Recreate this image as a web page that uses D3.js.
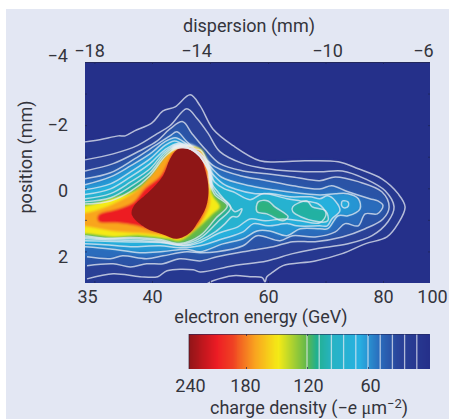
<!DOCTYPE html>
<html>
<head>
<meta charset="utf-8">
<script src="https://cdn.jsdelivr.net/npm/d3@7"></script>
<style>
  html, body { margin: 0; padding: 0; background: #fff; }
  svg { display: block; }
  text { font-family: "Roboto", sans-serif; fill: #33343c; font-size: 18px; }
</style>
</head>
<body>
<script>
// tick labels
const energyTicks = [35, 40, 60, 80, 100];
const energyMarks = [35.7, 40, 50, 60, 70, 80];
const dispersionTicks = [-18, -14, -10, -6];
const positionTicks = [-4, -2, 0, 2];
const positionMarks = [-3, -2, -1, 0, 1, 2];
const densityTicks = [240, 180, 120, 60];

// colour bar, density -> colour
const densityStops = [0, 28, 48, 68, 94, 110, 120, 148, 170, 194, 210, 222, 240];
const densityColours = ["#25308a", "#2a4298", "#2a6cbc", "#27b0e2", "#27b3c4", "#22b08e", "#62b84a",
  "#f4ea16", "#f9a51f", "#ef4023", "#ed1c24", "#c8171e", "#8f1518"];

// contour levels and [energy GeV, position mm] outlines
const contourLevels = [12, 24, 36, 48, 60, 72, 84, 96, 108, 120];
const level12 = [[35,-1.47],[36.1,-1.54],[37.5,-1.66],[38,-1.66],[38.7,-1.82],[40,-2.07],[41.9,-2.45],[44,-2.58],[46.6,-2.96],[48.3,-2.61],[50.5,-1.88],[54,-1.35],[58.6,-.87],[62.1,-.84],[66.4,-.87],[72.2,-.84],[75.7,-.62],[79.8,-.3],[86.4,.17],[89.4,.59],[86.4,1.12],[81.7,1.54],[76.9,1.76],[72.9,2.07],[68.2,2.3],[62.6,2.45],[60.9,2.65],[59.8,2.8],[59.5,2.96],[59,2.83],[56.9,2.8],[54,2.77],[50.5,2.93],[49.1,3.05],[35,3.2]];
const level24 = [[35,-.9],[37.1,-1.09],[38.9,-1.35],[40.9,-1.73],[43.1,-1.98],[46,-2.52],[47.8,-2.2],[49.7,-1.73],[51.7,-1.16],[55.7,-.78],[59.8,-.62],[63.8,-.55],[69,-.52],[72.9,-.55],[76.9,-.3],[80.9,.08],[84.7,.59],[82.1,1.06],[78.1,1.5],[73.9,1.76],[68.2,1.92],[64.3,2.07],[59.8,2.3],[54,2.45],[48.3,2.65],[47.1,2.58],[42.6,2.61],[41,2.8],[39.1,2.8],[37.1,2.71],[35.15,2.87]];
const level36 = [[35,-.55],[37.1,-.78],[39.1,-1.19],[40.9,-1.5],[43.1,-1.88],[45.3,-2.11],[46.9,-1.73],[49.1,-1.25],[51.7,-.78],[55.7,-.55],[59.8,-.46],[64.3,-.36],[69,-.24],[71.7,-.36],[75.7,-.21],[79.8,.11],[82.6,.59],[80,.97],[76.9,1.28],[72.9,1.54],[68.2,1.69],[64.3,1.69],[60.9,1.85],[55.7,2.01],[51.2,2.17],[48.3,2.3],[44.8,2.23],[41.9,2.39],[39.6,2.39],[38.4,2.49],[37.1,2.39],[35.15,2.45]];
const level48 = [[35,-.3],[36.9,-.49],[38.7,-.93],[40.5,-1.35],[43.1,-1.66],[44.3,-1.79],[45.9,-1.5],[48.3,-1.09],[50.9,-.68],[55.2,-.4],[59.8,-.24],[64.3,-.08],[69,.02],[71.1,-.08],[73.9,.11],[77.7,.33],[79.1,.4],[80,.55],[79,.81],[76.9,.81],[75.7,1.19],[73.4,1.12],[71.7,1.38],[68.2,1.54],[64.3,1.5],[62.1,1.66],[58.1,1.5],[55.7,1.82],[51.2,2.01],[48.3,2.04],[46,2.01],[41.9,2.14],[39.6,2.23],[37.8,2.14],[36.9,2.23],[35.15,2.17]];
const level60 = [[35,-.11],[36.9,-.36],[38.4,-.71],[39.85,-1.09],[42.2,-1.47],[44,-1.6],[45.7,-1.44],[48,-1.1],[49.9,-.72],[52,-.35],[56.9,-.08],[62.1,.08],[69,.21],[71.7,.17],[73.9,.17],[75.7,.33],[76,.65],[73.9,.87],[72.2,.87],[70.4,1.28],[69,1.28],[65.6,1.28],[63.3,1.5],[60.3,1.35],[58.1,1.35],[55.7,1.6],[52.2,1.76],[48.3,2.01],[46,1.93],[41.9,2],[39.1,2.04],[36.9,1.92],[35,1.85]];
const level72 = [[35,.05],[36.9,-.14],[38.4,-.52],[39.85,-.93],[42.2,-1.35],[43.9,-1.5],[46.2,-1.3],[48.1,-1.05],[50,-.55],[52.2,-.15],[54.3,.02],[57.8,.17],[60.7,.17],[63.8,.27],[67.3,.27],[69,.33],[70.4,.24],[71.7,.4],[72.5,.71],[71.1,.97],[70.3,1.19],[69,1.19],[65,1.19],[63.5,1.12],[60,1.19],[57.5,1.12],[55.7,1.38],[52.2,1.6],[48.3,1.82],[44.8,1.88],[41.4,1.82],[38.4,1.85],[36.5,1.79],[35,1.76]];
const level84 = [[35,.2],[36.9,.02],[38.4,-.36],[39.85,-.78],[42.2,-1.22],[44.5,-1.42],[46.5,-1.25],[48.2,-1.02],[49.9,-.5],[50.8,-.2],[52.5,.02],[54,.11],[56.9,.36],[59.1,.17],[63.3,.33],[65.6,.4],[68.7,.49],[70.1,.81],[69,1.09],[65.6,1.03],[62.6,.97],[59.5,1.03],[56.9,.97],[54.8,1.22],[51.7,1.41],[48.3,1.72],[45.7,1.82],[41.4,1.72],[38.4,1.7],[36.5,1.68],[35,1.66]];
const level96 = [[35,.33],[36.9,.17],[38.4,-.2],[39.85,-.62],[42.2,-1.15],[44.3,-1.37],[46.9,-1.22],[48.3,-1],[49.85,-.55],[50.3,-.15],[51.3,.1],[53.1,.49],[54.3,.74],[55.5,.65],[54.8,.9],[53.8,.9],[52.6,1.12],[50.9,1.38],[48.3,1.65],[45.7,1.8],[41.4,1.7],[38.4,1.65],[36.5,1.63],[35,1.6]];
const level108 = [[35,.43],[36.9,.3],[38.4,-.05],[39.85,-.5],[42.2,-1.08],[44.2,-1.32],[47,-1.22],[48.4,-1.1],[49.8,-.6],[50.1,-.2],[51,.15],[53.6,.6],[51.4,1.05],[48.3,1.58],[44.8,1.78],[41.4,1.66],[38.4,1.6],[36.5,1.6],[35,1.55]];
const level120 = [[35,.5],[36.9,.4],[38.4,.1],[39.85,-.4],[42.2,-1],[44.2,-1.27],[47,-1.25],[48.4,-1.2],[49.7,-.7],[50,-.2],[50.8,.2],[53,.55],[51,.95],[48.3,1.5],[44.8,1.75],[41.4,1.62],[38.4,1.56],[36.5,1.58],[35,1.5]];

// closed islands inside the tail
const islandLevels = [112, 104, 72];
const islandA = [[58.3,.43],[60,.4],[61.2,.59],[63.5,.9],[62.6,1.03],[59.8,.81],[58.1,.74]];
const islandB = [[64.3,.59],[66.8,.4],[67.7,.59],[70,.71],[70.4,1.03],[67.8,1.03],[64.3,.74]];
const islandC = [[73,.4],[73.9,.43],[74,.55],[73.5,.62],[72.9,.58],[72.8,.45]];

// saturated core, no contour lines
const coreLevels = [148, 170, 210, 240];
const coreYellow = [[35,.55],[36.9,.33],[38.7,.08],[39.85,-.36],[41.9,-.93],[43.4,-1.19],[48.3,-1.25],[49.5,-.71],[49.8,-.2],[50.5,.24],[51.7,.59],[50.5,.81],[47.8,1.28],[44.8,1.66],[42.6,1.6],[39.1,1.5],[37.1,1.54],[35.15,1.44],[35,1.44]];
const coreOrange = [[35,.78],[36.5,.6],[38,.3],[39.1,-.02],[40.5,-.55],[43,-1.1],[48,-1.2],[49.4,-.7],[49.8,0],[50,.5],[48.8,1],[47.5,1.3],[44.8,1.6],[42,1.5],[39.1,1.42],[37,1.35],[35,1.2]];
const coreRed = [[36,.85],[37.5,.65],[38.6,.45],[39.5,.0],[41.5,-.4],[43,-.9],[44,-1.2],[48,-1.2],[49.3,-.6],[49.5,.3],[48.8,.8],[47.5,1.2],[44.5,1.55],[41.4,1.42],[38.8,1.18],[37.5,1.1],[36,1.05]];
const coreBlob = [[43.1,-.93],[44.3,-1.22],[46,-1.28],[47.8,-1.2],[49.1,-.62],[49.75,.02],[49.3,.6],[47.8,1.1],[46.6,1.4],[44.3,1.6],[41.9,1.46],[39.5,1.25],[38.5,.85],[38.6,.59],[39.85,.08],[41.9,-.4]];
const haloOutline = [[43.5,-1.32],[47,-1.38],[48.8,-1.1],[50.2,-.65],[50.4,-.15],[50,.1],[45,.3]];

const contours = [level12, level24, level36, level48, level60, level72, level84, level96, level108, level120];
const islands = [islandA, islandB, islandC];
const cores = [coreYellow, coreOrange];

const width = 449, height = 419;
const plot = { left: 85, right: 430, top: 62, bottom: 283 };

const x = d3.scaleLinear().domain([35, 40, 60, 80, 100]).range([plot.left, 152, 268, 383, plot.right]);
const y = d3.scaleLinear().domain([-4, 3]).range([plot.top, plot.bottom]);
// the printed labels do not sit on the tick marks in the original
const xLabel = d3.scaleLinear().domain([35, 40, 60, 80, 100]).range([87, 152, 268, 383, 432]);
const topLabel = d3.scaleLinear().domain([-18, -14, -10, -6]).range([89, 196, 327, 423]);
const yLabel = d3.scaleLinear().domain([-4, -2, 0, 2]).range([56, 125, 191, 257]);
const legendX = d3.scaleLinear().domain([0, 60, 120, 180, 240]).range([429, 368, 307, 246, 189]);
const legendLabel = d3.scaleLinear().domain([60, 120, 180, 240]).range([370, 308, 245, 190]);
const colour = d3.scaleLinear().domain(densityStops).range(densityColours);

const svg = d3.select("body").append("svg").attr("width", width).attr("height", height);

svg.append("rect").attr("x", 6).attr("y", 9).attr("width", width - 6).attr("height", height - 9).attr("fill", "#e3e7f3");

const defs = svg.append("defs");
defs.append("clipPath").attr("id", "plotClip").append("rect")
  .attr("x", plot.left).attr("y", plot.top)
  .attr("width", plot.right - plot.left).attr("height", plot.bottom - plot.top);
[["softBands", 1.7], ["softCore", 1.3], ["softBlob", 0.7]].forEach(f => {
  defs.append("filter").attr("id", f[0]).attr("x", "-10%").attr("y", "-10%").attr("width", "120%").attr("height", "120%")
    .append("feGaussianBlur").attr("stdDeviation", f[1]);
});
defs.append("filter").attr("id", "softLine").append("feGaussianBlur").attr("stdDeviation", 0.4);

const line = d3.line().x(d => x(d[0])).y(d => y(d[1])).curve(d3.curveCatmullRom.alpha(0.5));
const closedLine = d3.line().x(d => x(d[0])).y(d => y(d[1])).curve(d3.curveCatmullRomClosed.alpha(0.5));
// run the outline past the left edge so the blur does not fade at the frame
const extended = pts => [[33, pts[0][1]], ...pts, [33, pts[pts.length - 1][1]]];

const chart = svg.append("g").attr("clip-path", "url(#plotClip)");
chart.append("rect").attr("x", plot.left).attr("y", plot.top)
  .attr("width", plot.right - plot.left).attr("height", plot.bottom - plot.top)
  .attr("fill", colour(0));

const bands = chart.append("g").attr("filter", "url(#softBands)");
bands.selectAll("path.band").data(contours).join("path").attr("class", "band")
  .attr("d", d => line(extended(d)) + "Z")
  .attr("fill", (d, i) => colour(contourLevels[i]));
bands.selectAll("path.island").data(islands).join("path").attr("class", "island")
  .attr("d", d => closedLine(d))
  .attr("fill", (d, i) => colour(islandLevels[i]));

chart.append("path").attr("d", closedLine(haloOutline))
  .attr("fill", "#f4fbfb").attr("filter", "url(#softCore)");

const hot = chart.append("g").attr("filter", "url(#softCore)");
hot.selectAll("path").data(cores).join("path")
  .attr("d", d => line(extended(d)) + "Z")
  .attr("fill", (d, i) => colour(coreLevels[i]));
hot.append("path").attr("d", closedLine(coreRed)).attr("fill", colour(coreLevels[2]));
chart.append("path").attr("d", closedLine(coreBlob))
  .attr("fill", colour(coreLevels[3])).attr("filter", "url(#softBlob)");

const lines = chart.append("g").attr("fill", "none").attr("stroke", "#e6eaf2")
  .attr("stroke-opacity", 0.75).attr("stroke-width", 1.5).attr("filter", "url(#softLine)");
lines.selectAll("path.level").data(contours).join("path").attr("class", "level")
  .attr("d", d => line(d));
lines.selectAll("path.ring").data(islands).join("path").attr("class", "ring")
  .attr("d", d => closedLine(d));

// tick marks: short and pointing inward on all four sides
const markStyle = g => {
  g.select(".domain").remove();
  g.selectAll(".tick line").attr("stroke", "#1d2350").attr("stroke-opacity", 0.7);
  g.selectAll("text").remove();
};
svg.append("g").attr("transform", `translate(0,${plot.bottom})`)
  .call(d3.axisBottom(x).tickValues(energyMarks).tickSize(-2)).call(markStyle);
svg.append("g").attr("transform", `translate(0,${plot.top})`)
  .call(d3.axisTop(x).tickValues(energyMarks).tickSize(-2)).call(markStyle);
svg.append("g").attr("transform", `translate(${plot.left},0)`)
  .call(d3.axisLeft(y).tickValues(positionMarks).tickSize(-2)).call(markStyle);
svg.append("g").attr("transform", `translate(${plot.right},0)`)
  .call(d3.axisRight(y).tickValues(positionMarks).tickSize(-2)).call(markStyle);
svg.append("line").attr("x1", plot.left).attr("x2", plot.right).attr("y1", plot.top + 0.5).attr("y2", plot.top + 0.5)
  .attr("stroke", "#23285c").attr("stroke-width", 1);

// label axes
const labelStyle = g => {
  g.select(".domain").remove();
  g.selectAll(".tick line").remove();
  g.selectAll("text").attr("fill", null).style("font-size", "18px");
  g.attr("font-family", null).attr("font-size", null);
};
const minus = d => String(d).replace("-", "\u2212");
svg.append("g").attr("transform", "translate(0,290)")
  .call(d3.axisBottom(xLabel).tickValues(energyTicks).tickSize(0).tickPadding(0).tickFormat(d3.format("d"))).call(labelStyle);
svg.append("g").attr("transform", "translate(0,44)")
  .call(d3.axisBottom(topLabel).tickValues(dispersionTicks).tickSize(0).tickPadding(0).tickFormat(minus)).call(labelStyle);
svg.append("g").attr("transform", "translate(68,0)")
  .call(d3.axisLeft(yLabel).tickValues(positionTicks).tickSize(0).tickPadding(0).tickFormat(minus)).call(labelStyle);
svg.append("g").attr("transform", "translate(0,379)")
  .call(d3.axisBottom(legendLabel).tickValues(densityTicks).tickSize(0).tickPadding(0).tickFormat(d3.format("d"))).call(labelStyle);

svg.append("text").attr("x", 249).attr("y", 32).attr("text-anchor", "middle").text("dispersion (mm)");
svg.append("text").attr("x", 261).attr("y", 323).attr("text-anchor", "middle").text("electron energy (GeV)");
svg.append("text").attr("transform", "translate(32,157) rotate(-90)").attr("text-anchor", "middle").text("position (mm)");

const cbTitle = svg.append("text").attr("x", 309).attr("y", 414).attr("text-anchor", "middle");
cbTitle.append("tspan").text("charge density (\u2212");
cbTitle.append("tspan").attr("font-style", "italic").text("e");
cbTitle.append("tspan").text(" ");
cbTitle.append("tspan").style("font-family", "Liberation Serif").text("\u03bc");
cbTitle.append("tspan").text("m");
cbTitle.append("tspan").attr("dy", -6).style("font-size", "13px").text("\u22122");
cbTitle.append("tspan").attr("dy", 6).text(")");

// colour bar
const legendTop = 334, legendBottom = 369;
const legend = svg.append("g").attr("shape-rendering", "crispEdges");
legend.selectAll("rect").data(d3.range(239, -1, -1)).join("rect")
  .attr("x", d => legendX(d + 1))
  .attr("y", legendTop)
  .attr("width", d => legendX(d) - legendX(d + 1) + 1)
  .attr("height", legendBottom - legendTop)
  .attr("fill", d => colour(d));
svg.append("g").selectAll("line").data(contourLevels).join("line")
  .attr("x1", d => legendX(d)).attr("x2", d => legendX(d))
  .attr("y1", legendTop).attr("y2", legendBottom)
  .attr("stroke", "#e6eaf2").attr("stroke-opacity", 0.72).attr("stroke-width", 1.3);
svg.append("g").attr("transform", `translate(0,${legendBottom})`)
  .call(d3.axisBottom(legendX).tickValues([60, 120, 180]).tickSize(-2)).call(markStyle);
svg.append("g").attr("transform", `translate(0,${legendTop})`)
  .call(d3.axisTop(legendX).tickValues([60, 120, 180]).tickSize(-2)).call(markStyle);
svg.append("line").attr("x1", 189).attr("x2", 429).attr("y1", legendTop + 0.5).attr("y2", legendTop + 0.5)
  .attr("stroke", "#23285c").attr("stroke-opacity", 0.6);
svg.append("line").attr("x1", 189).attr("x2", 189).attr("y1", legendTop).attr("y2", legendBottom)
  .attr("stroke", "#3a2030").attr("stroke-opacity", 0.7);
</script>
</body>
</html>
